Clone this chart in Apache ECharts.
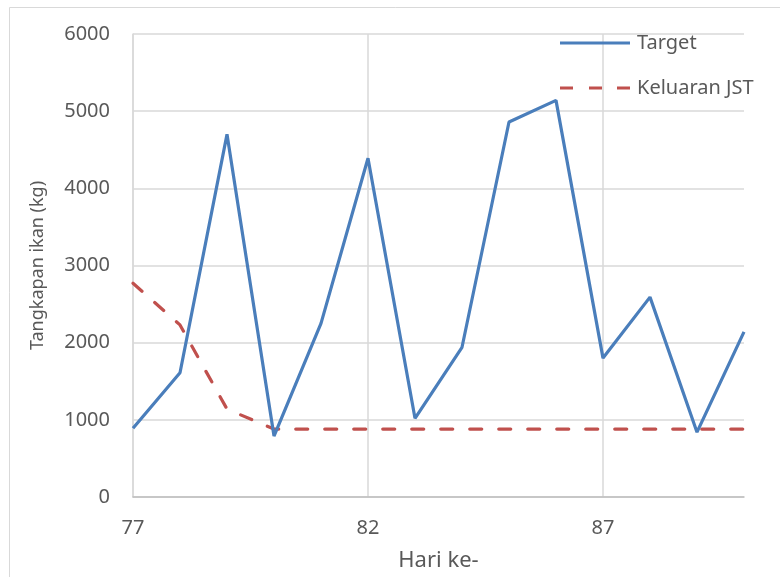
<!DOCTYPE html>
<html>
<head>
<meta charset="utf-8">
<script src="https://cdn.jsdelivr.net/npm/echarts@6/dist/echarts.min.js"></script>
<style>
html,body{margin:0;padding:0;background:#fff;overflow:hidden;}
#c{width:780px;height:577px;}
</style>
</head>
<body>
<div id="c"></div>
<script>
var days = ['77','78','79','80','81','82','83','84','85','86','87','88','89','90'];
var target = [890, 1610, 4700, 790, 2250, 4390, 1020, 1940, 4860, 5140, 1800, 2590, 840, 2140];
var keluaran = [2770, 2230, 1140, 880, 880, 880, 880, 880, 880, 880, 880, 880, 880, 880];
var yTicks = [0, 1000, 2000, 3000, 4000, 5000, 6000];

var font = 'Noto Sans';
var chart = echarts.init(document.getElementById('c'));
chart.setOption({
  animation: false,
  backgroundColor: '#fff',
  graphic: [{
    type: 'rect', left: 7, top: 5,
    shape: {width: 800, height: 600},
    style: {fill: 'none', stroke: '#d9d9d9', lineWidth: 1},
    silent: true, z: -1
  }],
  grid: {left: 133, width: 611, top: 34, height: 463, containLabel: false},
  legend: {
    orient: 'vertical', left: 560, top: 33, padding: 0,
    itemWidth: 70, itemHeight: 3.5, itemGap: 25,
    textStyle: {fontFamily: font, fontSize: 20, color: '#595959', lineHeight: 20, padding: [0, 0, 0, 2]},
    data: [
      {name: 'Target', icon: 'path://M0,0h70v3h-70z'},
      {name: 'Keluaran JST', icon: 'path://M0,0h13v3h-13zM29,0h13v3h-13zM57,0h13v3h-13z'}
    ]
  },
  xAxis: {
    type: 'category', data: days, boundaryGap: false,
    name: 'Hari ke-', nameLocation: 'middle', nameGap: 53,
    nameTextStyle: {fontFamily: font, fontSize: 22, color: '#595959'},
    axisLine: {lineStyle: {color: '#bfbfbf', width: 1.5}},
    axisTick: {show: false},
    axisLabel: {interval: 4, fontFamily: font, fontSize: 20, color: '#595959', margin: 21},
    splitLine: {show: true, interval: 4, lineStyle: {color: '#d9d9d9', width: 1.5}}
  },
  yAxis: {
    type: 'value', min: 0, max: 6000, interval: 1000,
    name: 'Tangkapan ikan (kg)', nameLocation: 'middle', nameGap: 86,
    nameTextStyle: {fontFamily: font, fontSize: 18, color: '#595959'},
    axisLine: {show: true, lineStyle: {color: '#d9d9d9', width: 1.5}},
    axisTick: {show: false},
    axisLabel: {fontFamily: font, fontSize: 20, color: '#595959', margin: 23,
      formatter: function(v){ return yTicks.indexOf(v) >= 0 ? String(v) : ''; }},
    splitLine: {lineStyle: {color: '#d9d9d9', width: 1.5}}
  },
  series: [
    {
      name: 'Target', type: 'line', data: target,
      symbol: 'none', showSymbol: false,
      lineStyle: {color: '#4a7ebb', width: 3.2},
      itemStyle: {color: '#4a7ebb'}, z: 3
    },
    {
      name: 'Keluaran JST', type: 'line', data: keluaran,
      symbol: 'none', showSymbol: false,
      lineStyle: {color: '#c0504d', width: 3.2, type: [12, 17], cap: 'round'},
      itemStyle: {color: '#c0504d'}, z: 2
    }
  ]
});
</script>
</body>
</html>
